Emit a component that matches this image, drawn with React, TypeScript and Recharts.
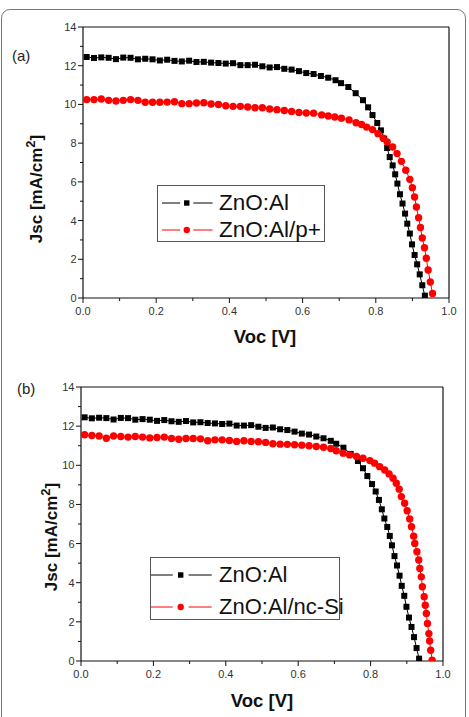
import React from "react";
import { ScatterChart, Scatter, XAxis, YAxis, ReferenceLine, Legend } from "recharts";

// axis ticks (minor every 0.1 V / 1 mA, labels on the even ones)
const vocTicks = [0, 0.1, 0.2, 0.3, 0.4, 0.5, 0.6, 0.7, 0.8, 0.9, 1.0];
const jscTicks = [0, 1, 2, 3, 4, 5, 6, 7, 8, 9, 10, 11, 12, 13, 14];

// ZnO:Al reference cell (same curve in both panels)
const alVoc = [
  0.01, 0.03, 0.05, 0.07, 0.09, 0.11, 0.13, 0.15, 0.17, 0.19, 0.21, 0.23, 0.25, 0.27, 0.29,
  0.31, 0.33, 0.35, 0.37, 0.39, 0.41, 0.43, 0.45, 0.47, 0.49, 0.51, 0.53, 0.55, 0.57, 0.59,
  0.61, 0.63, 0.65, 0.67, 0.69, 0.705, 0.725, 0.745, 0.765, 0.779, 0.791, 0.804, 0.814,
  0.823, 0.831, 0.838, 0.846, 0.853, 0.859, 0.866, 0.873, 0.88, 0.886, 0.893, 0.899, 0.906,
  0.913, 0.92, 0.927, 0.934,
];
const alJsc = [
  12.45, 12.4, 12.43, 12.41, 12.34, 12.42, 12.41, 12.33, 12.36, 12.33, 12.27, 12.31, 12.25,
  12.22, 12.26, 12.19, 12.2, 12.16, 12.14, 12.11, 12.13, 12.03, 12.03, 12.05, 11.97, 11.91,
  11.93, 11.84, 11.8, 11.72, 11.62, 11.57, 11.47, 11.38, 11.25, 11.1, 10.9, 10.58, 10.22,
  9.85, 9.45, 9.04, 8.66, 8.23, 7.75, 7.28, 6.85, 6.39, 5.91, 5.36, 4.88, 4.36, 3.84, 3.33,
  2.77, 2.22, 1.74, 1.22, 0.66, 0.12,
];

// ZnO:Al/p+
const pVoc = [
  0.01, 0.03, 0.05, 0.07, 0.09, 0.11, 0.13, 0.15, 0.17, 0.19, 0.21, 0.23, 0.25, 0.27, 0.29,
  0.31, 0.33, 0.35, 0.37, 0.39, 0.41, 0.43, 0.45, 0.47, 0.49, 0.51, 0.53, 0.55, 0.57, 0.59,
  0.61, 0.63, 0.652, 0.67, 0.688, 0.706, 0.727, 0.746, 0.761, 0.775, 0.791, 0.806, 0.82,
  0.831, 0.846, 0.858, 0.87, 0.882, 0.893, 0.9, 0.906, 0.911, 0.917, 0.922, 0.927, 0.933,
  0.938, 0.943, 0.949, 0.955,
];
const pJsc = [
  10.25, 10.25, 10.28, 10.21, 10.18, 10.21, 10.25, 10.21, 10.11, 10.11, 10.11, 10.12, 10.14,
  10.04, 10.04, 10.07, 10.09, 10.02, 10.0, 9.93, 9.9, 9.9, 9.87, 9.83, 9.83, 9.76, 9.73,
  9.69, 9.64, 9.58, 9.56, 9.55, 9.46, 9.4, 9.35, 9.29, 9.2, 9.05, 8.96, 8.83, 8.7, 8.49,
  8.26, 8.06, 7.8, 7.46, 7.06, 6.6, 6.13, 5.7, 5.22, 4.7, 4.15, 3.64, 3.1, 2.6, 2.05, 1.45,
  0.83, 0.23,
];

// ZnO:Al/nc-Si
const ncVoc = [
  0.01, 0.03, 0.05, 0.07, 0.09, 0.11, 0.13, 0.15, 0.17, 0.19, 0.21, 0.23, 0.25, 0.27, 0.29,
  0.31, 0.33, 0.35, 0.37, 0.39, 0.41, 0.43, 0.45, 0.47, 0.49, 0.51, 0.53, 0.55, 0.57, 0.59,
  0.61, 0.63, 0.65, 0.67, 0.69, 0.705, 0.724, 0.742, 0.761, 0.779, 0.798, 0.811, 0.825,
  0.839, 0.851, 0.862, 0.871, 0.879, 0.885, 0.894, 0.901, 0.908, 0.913, 0.919, 0.922, 0.928,
  0.933, 0.936, 0.94, 0.943, 0.948, 0.951, 0.954, 0.957, 0.961, 0.963, 0.966, 0.97,
];
const ncJsc = [
  11.56, 11.52, 11.5, 11.38, 11.5, 11.47, 11.44, 11.47, 11.44, 11.4, 11.42, 11.44, 11.37,
  11.33, 11.37, 11.37, 11.35, 11.25, 11.3, 11.3, 11.27, 11.22, 11.25, 11.22, 11.2, 11.17,
  11.1, 11.08, 11.07, 11.05, 11.03, 11.0, 10.96, 10.92, 10.86, 10.74, 10.62, 10.53, 10.45,
  10.36, 10.24, 10.11, 9.93, 9.76, 9.56, 9.34, 9.08, 8.78, 8.4, 8.06, 7.68, 7.26, 6.86,
  6.38, 6.01, 5.58, 5.16, 4.73, 4.3, 3.79, 3.28, 2.85, 2.43, 1.92, 1.4, 1.02, 0.55, 0.04,
];

const FONT = "'Liberation Sans', Arial, Helvetica, sans-serif";

type Marker = "square" | "circle";
type Series = { name: string; voc: number[]; jsc: number[]; color: string; marker: Marker };

const toPoints = (voc: number[], jsc: number[]) => voc.map((v, i) => ({ voc: v, jsc: jsc[i] }));

const plotMarker = (marker: Marker, color: string) => (p: any) =>
  marker === "square" ? (
    <rect x={p.cx - 3} y={p.cy - 3} width={6} height={6} fill={color} />
  ) : (
    <circle cx={p.cx} cy={p.cy} r={3.7} fill={color} />
  );

const VocTick = (p: any) => {
  const v = p.payload.value;
  const major = Math.round(v * 10) % 2 === 0;
  return (
    <g>
      <line x1={p.x} x2={p.x} y1={p.y} y2={p.y + (major ? 5 : 3)} stroke="#111" strokeWidth={1} />
      {major && (
        <text x={p.x} y={p.y + 17} textAnchor="middle" fontSize={11} fill="#333" fontFamily={FONT}>
          {v.toFixed(1)}
        </text>
      )}
    </g>
  );
};

const JscTick = (p: any) => {
  const v = p.payload.value;
  const major = v % 2 === 0;
  return (
    <g>
      <line x1={p.x - (major ? 5 : 3)} x2={p.x} y1={p.y} y2={p.y} stroke="#111" strokeWidth={1} />
      {major && (
        <text x={p.x - 6.5} y={p.y + 4} textAnchor="end" fontSize={11} fill="#333" fontFamily={FONT}>
          {v}
        </text>
      )}
    </g>
  );
};

type LegendLayout = {
  left: number;
  top: number;
  width: number;
  height: number;
  padLeft: number;
  padTop: number;
  row: number;
  symbolW: number;
  fontSize: number;
};

function LegendBox({ series, box }: { series: Series[]; box: LegendLayout }) {
  const w = box.symbolW;
  return (
    <div
      style={{
        width: box.width,
        height: box.height,
        boxSizing: "border-box",
        border: "1.3px solid #555",
        background: "#fff",
        paddingLeft: box.padLeft,
        paddingTop: box.padTop,
        fontFamily: FONT,
      }}
    >
      {series.map((s) => (
        <div key={s.name} style={{ height: box.row, display: "flex", alignItems: "center" }}>
          <svg width={w} height={12} style={{ flex: "none" }}>
            <line x1={0} x2={w * 0.33} y1={6} y2={6} stroke={s.color} strokeWidth={1} />
            <line x1={w * 0.57} x2={w * 0.92} y1={6} y2={6} stroke={s.color} strokeWidth={1} />
            {s.marker === "square" ? (
              <rect x={w * 0.45 - 2.7} y={3.3} width={5.4} height={5.4} fill={s.color} />
            ) : (
              <circle cx={w * 0.45} cy={6} r={3.2} fill={s.color} />
            )}
          </svg>
          <span style={{ fontSize: box.fontSize, color: "#111", marginLeft: 2, whiteSpace: "nowrap" }}>
            {s.name}
          </span>
        </div>
      ))}
    </div>
  );
}

type PanelProps = {
  top: number;
  height: number;
  margin: { top: number; right: number; bottom: number; left: number };
  series: Series[];
  legend: LegendLayout;
  xTitle: { x: number; y: number };
  yTitle: { x: number; y: number };
  tag: string;
  tagPos: { left: number; top: number };
};

function Panel({ top, height, margin, series, legend, xTitle, yTitle, tag, tagPos }: PanelProps) {
  return (
    <div style={{ position: "absolute", left: 0, top, width: 469, height }}>
      <ScatterChart width={469} height={height} margin={margin}>
        <XAxis
          type="number"
          dataKey="voc"
          domain={[0, 1]}
          ticks={vocTicks}
          interval={0}
          allowDataOverflow
          height={40}
          tickSize={0}
          tickMargin={0}
          tickLine={false}
          axisLine={{ stroke: "#111", strokeWidth: 1.2 }}
          tick={VocTick}
          label={{
            content: () => (
              <text x={xTitle.x} y={xTitle.y} textAnchor="middle" fontSize={18.5} fontWeight="bold" fill="#111" fontFamily={FONT}>
                Voc [V]
              </text>
            ),
          }}
        />
        <YAxis
          type="number"
          dataKey="jsc"
          domain={[0, 14]}
          ticks={jscTicks}
          interval={0}
          allowDataOverflow
          width={50}
          tickSize={0}
          tickMargin={0}
          tickLine={false}
          axisLine={{ stroke: "#111", strokeWidth: 1.2 }}
          tick={JscTick}
          label={{
            content: () => (
              <text
                transform={`translate(${yTitle.x},${yTitle.y}) rotate(-90)`}
                textAnchor="middle"
                fontSize={17}
                fontWeight="bold"
                fill="#111"
                fontFamily={FONT}
              >
                Jsc [mA/cm
                <tspan dy={-7} fontSize={13}>2</tspan>
                <tspan dy={7}>]</tspan>
              </text>
            ),
          }}
        />
        <ReferenceLine y={14} stroke="#111" strokeWidth={1.2} />
        <ReferenceLine x={1} stroke="#111" strokeWidth={1.2} />
        {series.map((s) => (
          <Scatter
            key={s.name}
            name={s.name}
            data={toPoints(s.voc, s.jsc)}
            fill={s.color}
            line={{ stroke: s.color, strokeWidth: 1 }}
            shape={plotMarker(s.marker, s.color)}
            isAnimationActive={false}
          />
        ))}
        <Legend
          layout="vertical"
          align="center"
          verticalAlign="middle"
          wrapperStyle={{ left: legend.left, top: legend.top }}
          content={() => <LegendBox series={series} box={legend} />}
        />
      </ScatterChart>
      <span
        style={{
          position: "absolute",
          left: tagPos.left,
          top: tagPos.top,
          fontSize: 15,
          fontFamily: FONT,
          color: "#222",
        }}
      >
        {tag}
      </span>
    </div>
  );
}

const seriesA: Series[] = [
  { name: "ZnO:Al", voc: alVoc, jsc: alJsc, color: "#000000", marker: "square" },
  { name: "ZnO:Al/p+", voc: pVoc, jsc: pJsc, color: "#ff0000", marker: "circle" },
];

const seriesB: Series[] = [
  { name: "ZnO:Al", voc: alVoc, jsc: alJsc, color: "#000000", marker: "square" },
  { name: "ZnO:Al/nc-Si", voc: ncVoc, jsc: ncJsc, color: "#ff0000", marker: "circle" },
];

export default function App() {
  return (
    <div
      style={{
        position: "absolute",
        left: 0,
        top: 0,
        width: 469,
        height: 717,
        overflow: "hidden",
        background: "#fff",
      }}
    >
      <div
        style={{
          position: "absolute",
          left: 1,
          top: 9,
          width: 465,
          height: 740,
          border: "1.3px solid #777",
          borderRadius: 9,
          boxSizing: "border-box",
        }}
      />
      <Panel
        top={0}
        height={360}
        margin={{ top: 27, right: 20, bottom: 22, left: 33 }}
        series={seriesA}
        legend={{ left: 157, top: 185, width: 168, height: 57, padLeft: 4, padTop: 4, row: 26.6, symbolW: 55, fontSize: 22.5 }}
        xTitle={{ x: 265, y: 343 }}
        yTitle={{ x: 42, y: 189 }}
        tag="(a)"
        tagPos={{ left: 12, top: 47 }}
      />
      <Panel
        top={360}
        height={357}
        margin={{ top: 27, right: 26, bottom: 16, left: 31 }}
        series={seriesB}
        legend={{ left: 150, top: 197, width: 190, height: 63, padLeft: 0, padTop: 1, row: 31.7, symbolW: 66, fontSize: 22 }}
        xTitle={{ x: 262, y: 347 }}
        yTitle={{ x: 57, y: 177 }}
        tag="(b)"
        tagPos={{ left: 17, top: 20 }}
      />
    </div>
  );
}
